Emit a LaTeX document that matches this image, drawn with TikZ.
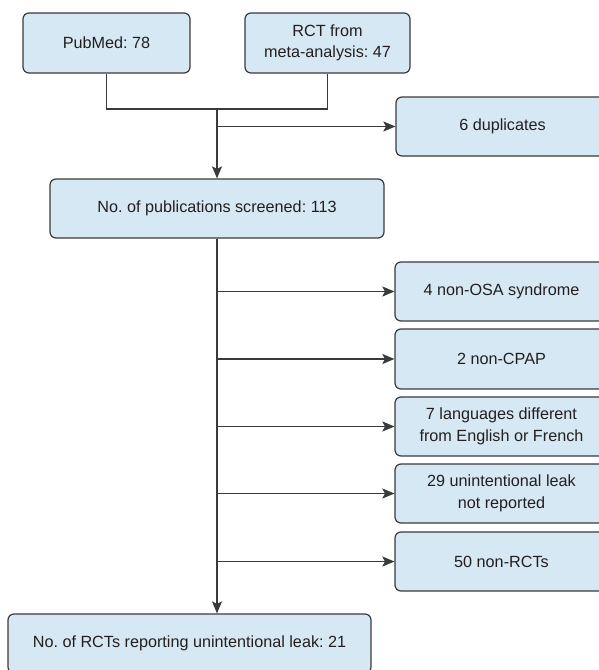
\documentclass[tikz,border=0pt]{standalone}
\usepackage{fontspec}
\setmainfont{Liberation Sans}
\usetikzlibrary{arrows.meta}
\definecolor{boxfill}{HTML}{D6E8F4}
\definecolor{boxline}{HTML}{3A3A3A}
\definecolor{txt}{HTML}{231F20}
\frenchspacing
\begin{document}
\begin{tikzpicture}[x=1pt,y=-1pt,
  box/.style={draw=boxline, fill=boxfill, line width=1.2pt, rounded corners=6pt,
    inner sep=0pt, align=center, text=txt, font=\fontsize{16.2}{21.5}\selectfont},
  conn/.style={draw=boxline, line width=1.3pt},
  arr/.style={conn, -{Stealth[length=12pt,width=10pt,inset=2.5pt]}}]
\clip (0,0) rectangle (599,670);
\node[box, minimum width=167pt, minimum height=60pt] (pub) at (106.5,43) {PubMed: 78};
\node[box, minimum width=165pt, minimum height=60pt] (rct) at (327.5,43) {RCT from\\meta-analysis: 47};
\node[box, minimum width=213pt, minimum height=59pt] (dup) at (502.5,126.5) {6 duplicates};
\node[box, minimum width=334pt, minimum height=59pt] (scr) at (217,208.5) {No. of publications screened: 113};
\node[box, minimum width=213pt, minimum height=59pt] (b1) at (501.5,291.5) {4 non-OSA syndrome};
\node[box, minimum width=213pt, minimum height=60pt] (b2) at (501.5,359) {2 non-CPAP};
\node[box, minimum width=213pt, minimum height=59pt] (b3) at (501.5,426.5) {7 languages different\\from English or French};
\node[box, minimum width=213pt, minimum height=59pt] (b4) at (501.5,493.5) {29 unintentional leak\\not reported};
\node[box, minimum width=213pt, minimum height=59pt] (b5) at (501.5,561.5) {50 non-RCTs};
\node[box, minimum width=363pt, minimum height=59pt] (fin) at (189.5,643.5) {No. of RCTs reporting unintentional leak: 21};
\coordinate (j) at (217,109);
\draw[conn] (pub.south) |- (j) -| (rct.south);
\draw[arr] (j) -- (scr.north);
\draw[arr] (j |- dup.west) -- (dup.west);
\draw[arr] (scr.south) -- (scr.south |- fin.north);
\foreach \b in {b1,b2,b3,b4,b5}
  \draw[arr] (scr.south |- \b.west) -- (\b.west);
\end{tikzpicture}
\end{document}
